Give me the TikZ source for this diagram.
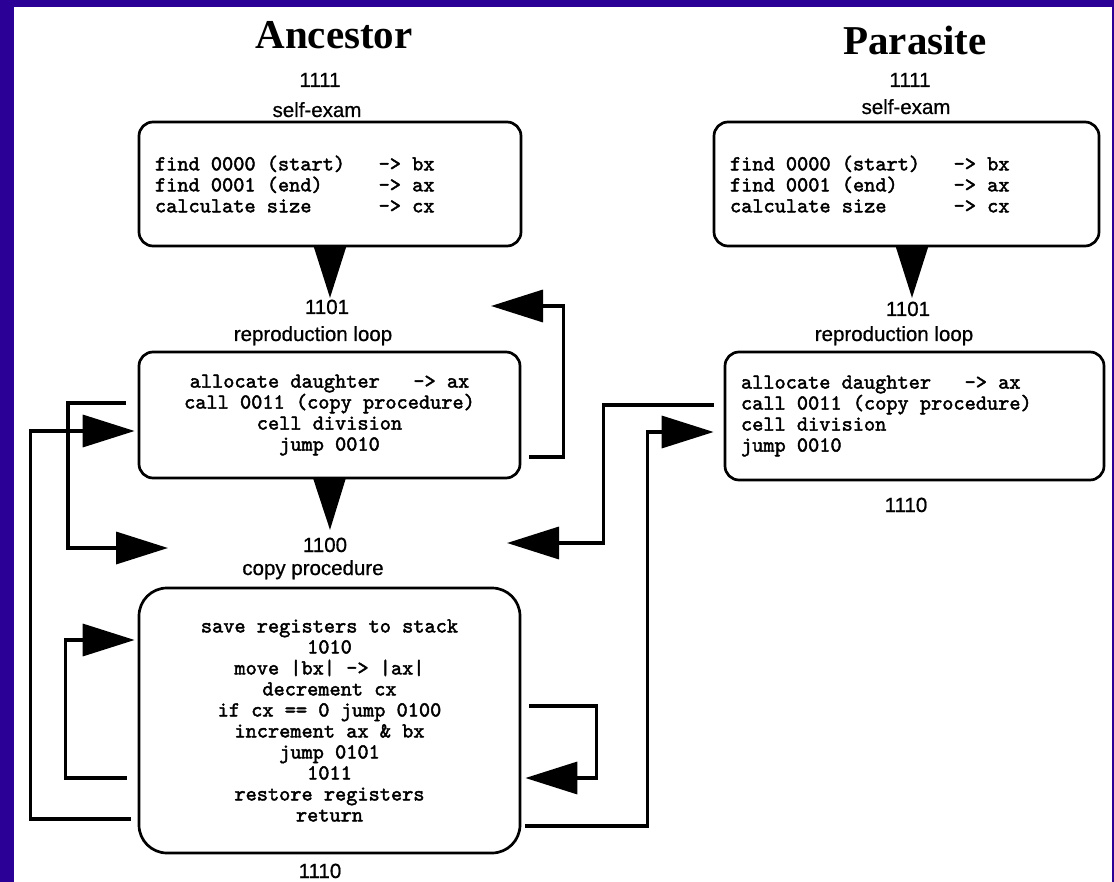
\documentclass[tikz,border=0pt]{standalone}
\usepackage{fontspec}
\setmainfont{Liberation Serif}
\setsansfont{Liberation Sans}
\newfontfamily\codefam{lmmono10-regular.otf}[FakeBold=2]
\newfontfamily\lblfam{Liberation Sans}[FakeBold=0.7]
\usepackage{tikz}
\usetikzlibrary{positioning}
\usetikzlibrary{arrows.meta}
\usetikzlibrary{calc}
\definecolor{framepurple}{RGB}{42,0,150}
\newcommand{\codefont}{\fontsize{21.3}{21}\selectfont\codefam}
\newcommand{\ws}{\hspace*{11.18pt}}
\newcommand{\lblfont}{\fontsize{20.5}{24}\selectfont\lblfam}
\newcommand{\ttlfont}{\fontsize{41}{48}\selectfont\rmfamily\bfseries}
\tikzstyle{block}=[draw, rectangle, rounded corners=14pt, line width=2.7pt, inner xsep=16pt, inner ysep=0pt, font=\codefont]
\tikzstyle{lbl}=[inner sep=0pt, anchor=base, font=\lblfont]
\tikzstyle{ttl}=[inner sep=0pt, anchor=base, font=\ttlfont]
\tikzstyle{conn}=[line width=3.5pt, -{Triangle[length=52pt, width=32pt]}]

\begin{document}
\begin{tikzpicture}[x=1pt, y=-1pt]

				\useasboundingbox (0,0) rectangle (1114,882);
				\fill[framepurple] (0,0) rectangle (1114,882);
				\fill[white] (14,7) rectangle (1112,882);

				% ancestor
				\node (ttlA) [ttl] at (334,49) {Ancestor};
				\node (num1111a) [lbl] at (320,87) {1111};
				\node (selfexamA) [lbl] at (317,117) {self-exam};
				\node (selfA) [block, align=left, minimum width=382pt, minimum height=124pt, text width=350pt] at (330,184)
					{find\ws0000\ws(start)\ws\ws\ws->\ws bx\\find\ws0001\ws(end)\ws\ws\ws\ws\ws->\ws ax\\calculate\ws size\ws\ws\ws\ws\ws\ws->\ws cx};
				\node (num1101a) [lbl] at (327,314) {1101};
				\node (reploopA) [lbl] at (313,341) {reproduction loop};
				\node (loopA) [block, align=center, minimum width=381pt, minimum height=126pt, text width=349pt] at (329.5,415)
					{allocate\ws daughter\ws\ws\ws->\ws ax\\call\ws0011\ws(copy\ws procedure)\\cell\ws division\\jump\ws0010};
				\node (num1100a) [lbl] at (325,552) {1100};
				\node (copyprocA) [lbl] at (313,575) {copy procedure};
				\node (copyA) [block, rounded corners=28pt, align=center, minimum width=381pt, minimum height=265pt, text width=349pt] at (329.5,720.5)
					{save\ws registers\ws to\ws stack\\1010\\move\ws|bx|\ws->\ws|ax|\\decrement\ws cx\\if\ws cx\ws==\ws0\ws jump\ws0100\\increment\ws ax\ws\&\ws bx\\jump\ws0101\\1011\\restore\ws registers\\return};
				\node (num1110a) [lbl] at (320,878) {1110};
				%
				% parasite
				\node (ttlP) [ttl] at (915,55) {Parasite};
				\node (num1111p) [lbl] at (910,87) {1111};
				\node (selfexamP) [lbl] at (906,114) {self-exam};
				\node (selfP) [block, align=left, minimum width=385pt, minimum height=124pt, text width=353pt] at (906.5,184)
					{find\ws0000\ws(start)\ws\ws\ws->\ws bx\\find\ws0001\ws(end)\ws\ws\ws\ws\ws->\ws ax\\calculate\ws size\ws\ws\ws\ws\ws\ws->\ws cx};
				\node (num1101p) [lbl] at (908,316) {1101};
				\node (reploopP) [lbl] at (894,341) {reproduction loop};
				\node (loopP) [block, align=left, minimum width=379pt, minimum height=128pt, text width=347pt] at (914.5,416)
					{allocate\ws daughter\ws\ws\ws->\ws ax\\call\ws0011\ws(copy\ws procedure)\\cell\ws division\\jump\ws0010};
				\node (num1110p) [lbl] at (906,512) {1110};

				\coordinate (tipSelfA) at (330,298);
				\coordinate (tipSelfP) at (912,298);
				\coordinate (tipLoopA) at (330,530);
				\coordinate (tipRep) at (491,306);
				\coordinate (tipCopyL) at (168,548);
				\coordinate (tipCopyR) at (507,543);

				\draw [conn] (selfA.south) to (tipSelfA);
				\draw [conn] (selfP.south -| tipSelfP) to (tipSelfP);
				\draw [conn] (loopA.south) to (tipLoopA);
				\draw [conn] ($(loopA.east)+(8,42)$) -- ++(34,0) |- (tipRep);
				\draw [conn] ($(loopA.west)+(-11.5,-12)$) -- ++(-58,0) |- (tipCopyL);
				\draw [conn] ($(copyA.west)+(-7,98.5)$) -- ++(-100,0) |- ($(loopA.west)+(-3,16)$);
				\draw [conn] ($(copyA.west)+(-11,57.5)$) -- ++(-61,0) |- ($(copyA.west)+(-3,-80.5)$);
				\draw [conn] ($(copyA.east)+(8,-14.5)$) -- ++(67,0) |- ($(copyA.east)+(4,57.5)$);
				\draw [conn] ($(copyA.east)+(4,105.5)$) -- ++(122,0) |- ($(loopP.west)+(-10,16)$);
				\draw [conn] ($(loopP.west)+(-10,-11)$) -- ++(-110,0) |- (tipCopyR);
\end{tikzpicture}
\end{document}
